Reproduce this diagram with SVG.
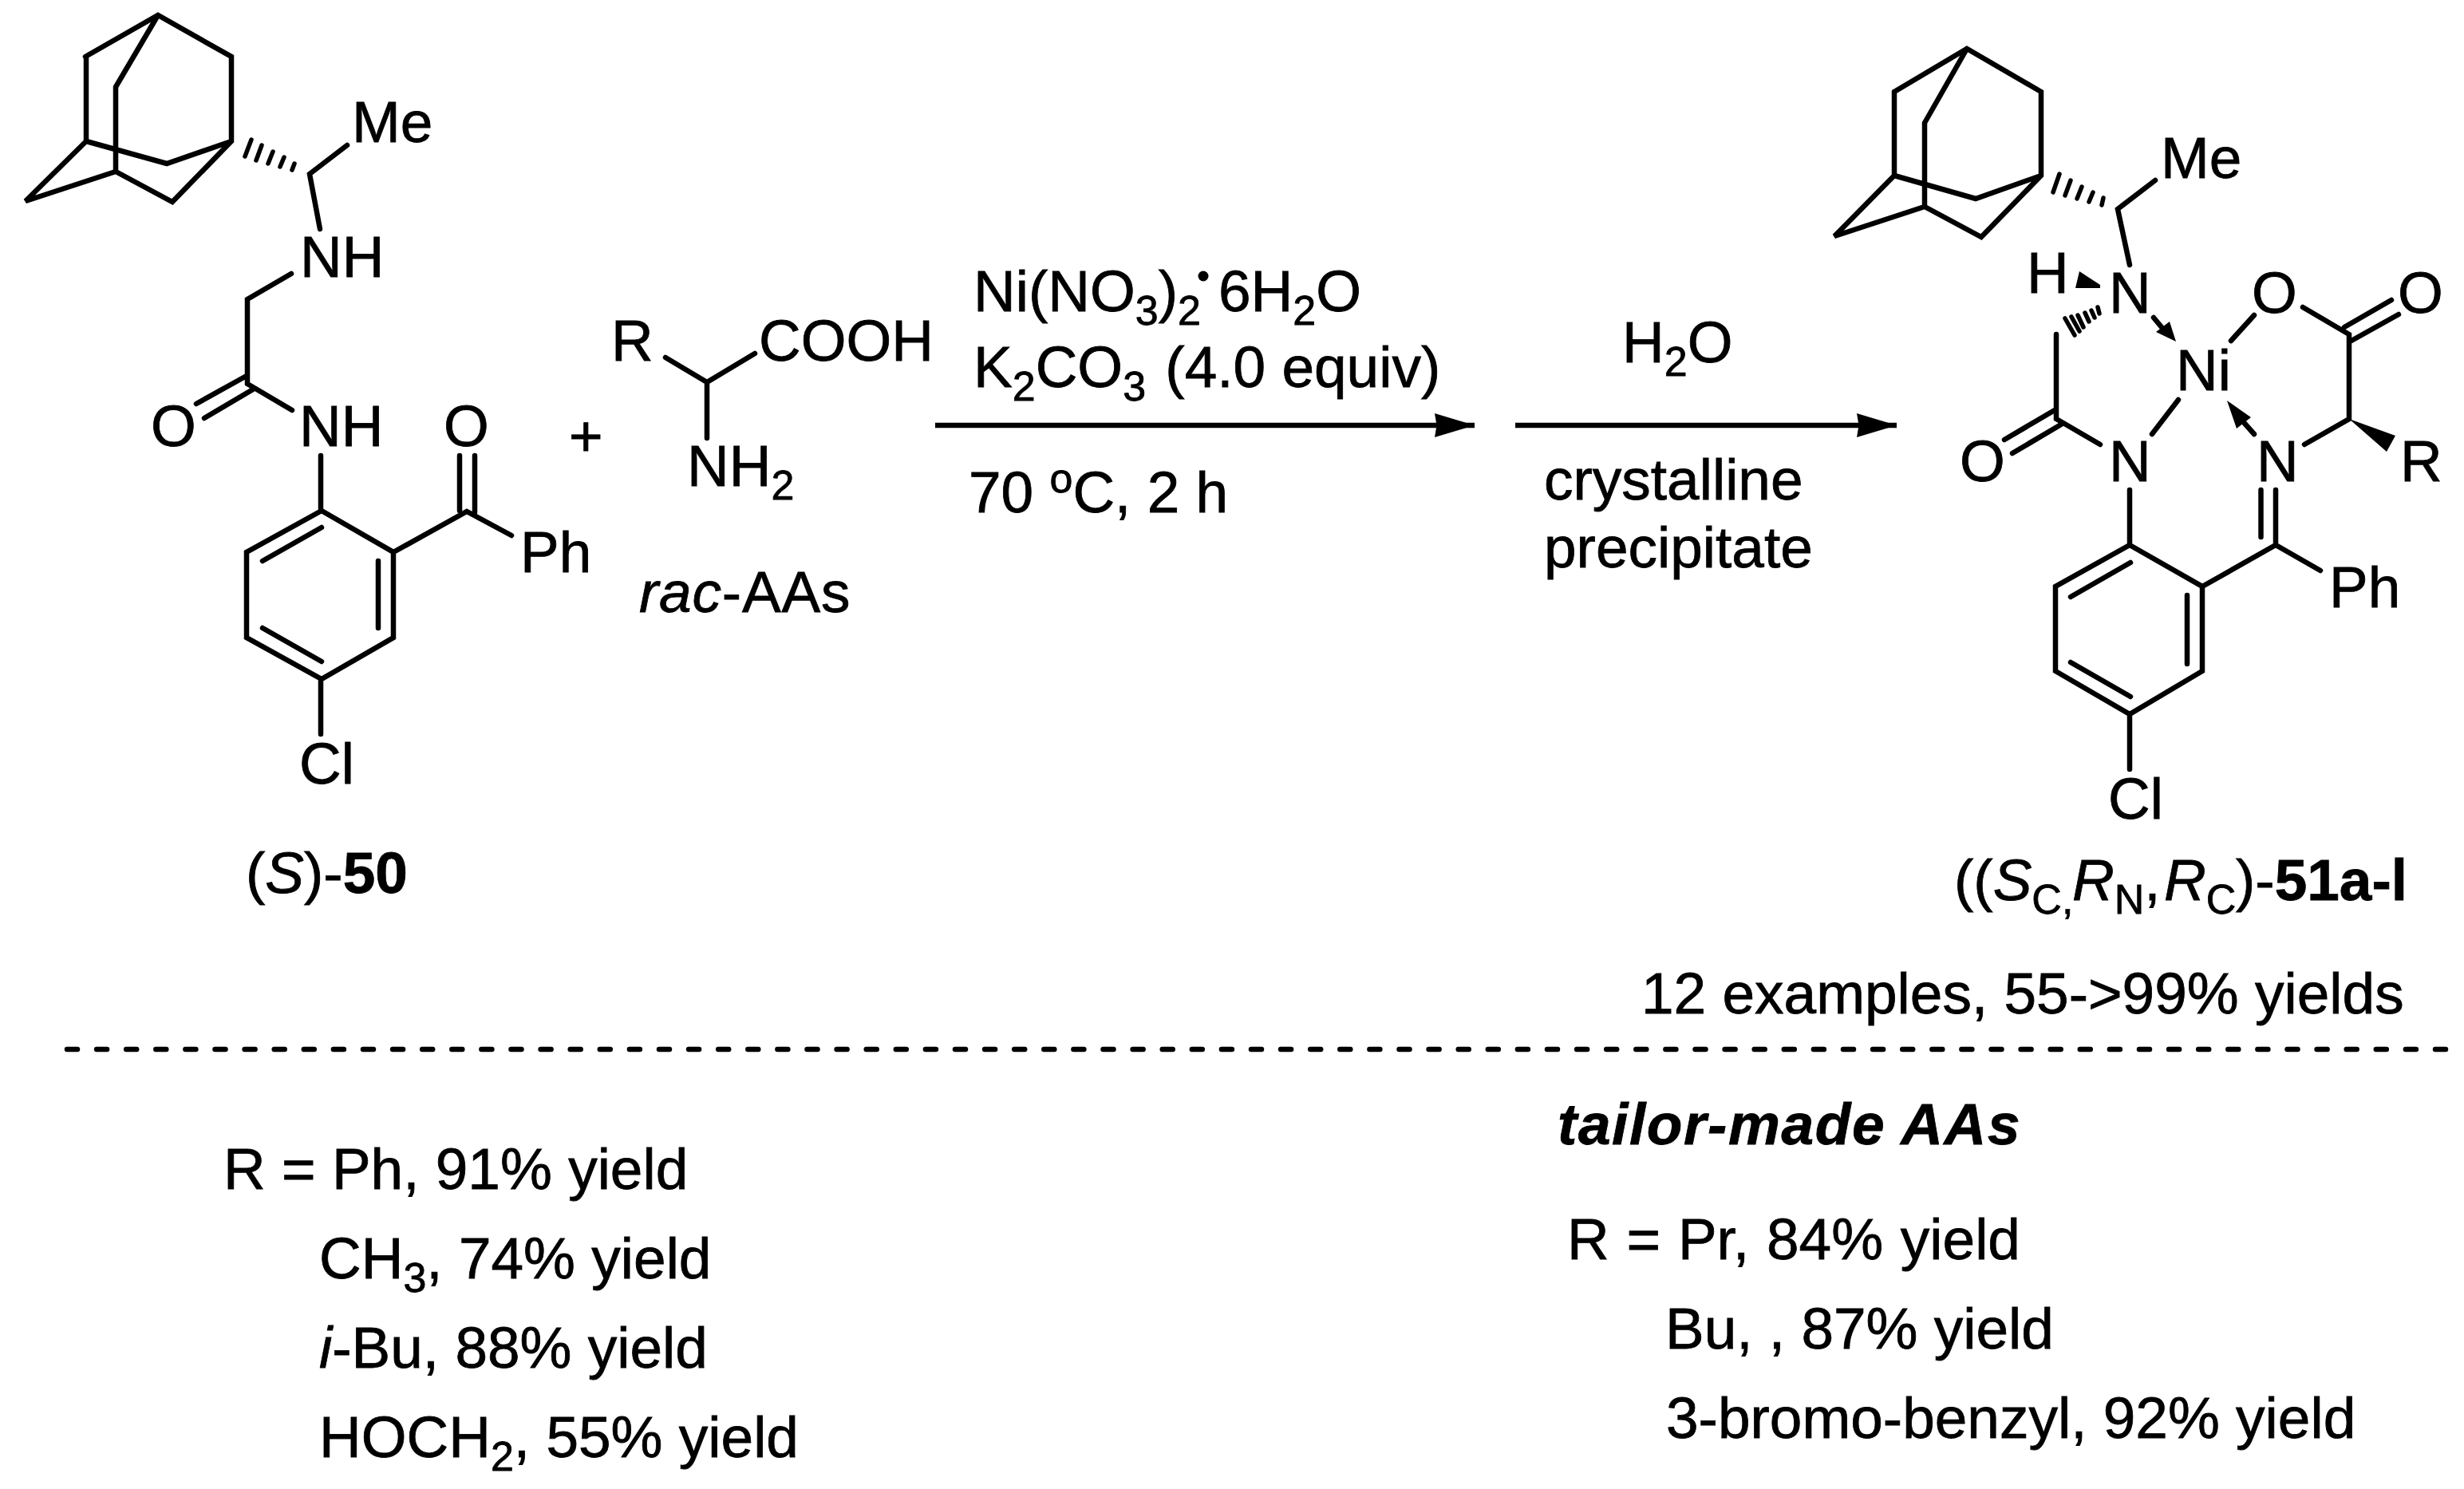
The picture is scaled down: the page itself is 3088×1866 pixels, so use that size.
<svg xmlns="http://www.w3.org/2000/svg" width="3088" height="1866" viewBox="0 0 3088 1866">
<style>
text{font-family:"Liberation Sans",Arial,sans-serif;font-size:73px;fill:#000;stroke:#000;stroke-width:.8}
.s{font-size:52px}
.i{font-style:italic}
.b{font-weight:bold}
.bond{fill:none;stroke:#000;stroke-width:6.500;stroke-linejoin:miter;stroke-linecap:round}
.hash{fill:none;stroke:#000;stroke-width:5.500;stroke-linecap:round}
.solid{fill:#000;stroke:none}
.arrow{fill:none;stroke:#000;stroke-width:6.500}
.dash{fill:none;stroke:#000;stroke-width:6.500;stroke-linecap:round;stroke-dasharray:13 24.1}
</style>
<defs>
<marker id="head" markerUnits="userSpaceOnUse" markerWidth="52" markerHeight="32" refX="50" refY="15" orient="auto" overflow="visible">
<path d="M0 0L50 15L0 30L2.500 15Z" fill="#000"/>
</marker>
</defs>
<rect width="3088" height="1866" fill="#fff"/>

<g id="connectors">
<path class="arrow" d="M1172 533H1848" marker-end="url(#head)"/>
<path class="arrow" d="M1899 533H2377" marker-end="url(#head)"/>
<path class="dash" d="M84 1315H3066"/>
</g>

<g id="reactant-50">
<path class="bond" d="M107 71L198 19L290 71V177L216 253L145 215L32 252L108 177V71M198 19L145 109V215M108 177L209 205L290 177"/>
<path class="hash" d="M315 175L307 196M328 182L321 201M342 190L336 205M356 197L351 209M369 205L366 213"/>
<path class="bond" d="M435 182L388 218L401 287"/>
<path class="bond" d="M365 343L310 375V481L366 514M309 471L246 506M317 488L256 524"/>
<path class="bond" d="M402 571V640M403 640L493 692V799L403 851L309 799V692L403 640M403 661L329 703M474 703V787M329 787L403 829M402 851V920"/>
<path class="bond" d="M493 692L585 641L641 671M576 571V640M595 571V642"/>
<text x="441" y="178">Me</text>
<text x="376" y="347">NH</text>
<text x="189" y="559">O</text>
<text x="375" y="559">NH</text>
<text x="556" y="559">O</text>
<text x="652" y="717">Ph</text>
<text x="375" y="982">Cl</text>
<text x="308" y="1119">(<tspan class="i">S</tspan>)-<tspan class="b">50</tspan></text>
</g>

<g id="plus"><text x="713" y="571">+</text></g>

<g id="rac-aas">
<path class="bond" d="M834 448L886 479L946 443M886 479V549"/>
<text x="766" y="452">R</text>
<text x="951" y="452">COOH</text>
<text x="861" y="609">NH<tspan class="s" dy="17">2</tspan></text>
<text x="801" y="767" style="letter-spacing:.8px"><tspan class="i">rac</tspan>-AAs</text>
</g>

<g id="reagents-1">
<text x="1220" y="390">Ni(NO<tspan class="s" dy="17">3</tspan><tspan dy="-17">)</tspan><tspan class="s" dy="17">2</tspan></text>
<circle cx="1508" cy="346" r="6.500"/>
<text x="1527" y="390">6H<tspan class="s" dy="17">2</tspan><tspan dy="-17">O</tspan></text>
<text x="1220" y="485">K<tspan class="s" dy="17">2</tspan><tspan dy="-17">CO</tspan><tspan class="s" dy="17">3</tspan><tspan dx="4" dy="-17"> (4.0 equiv)</tspan></text>
<text x="1214" y="642">70 <tspan class="s" dy="-25">o</tspan><tspan dy="25">C, 2 h</tspan></text>
</g>

<g id="reagents-2">
<text x="2033" y="454">H<tspan class="s" dy="17">2</tspan><tspan dy="-17">O</tspan></text>
<text x="1935" y="626">crystalline</text>
<text x="1935" y="711">precipitate</text>
</g>

<g id="product-51">
<path class="bond" d="M2374 115L2465 61L2558 115V220L2483 297L2412 259L2299 296L2374 220V115M2465 61L2412 154V259M2374 220L2476 249L2558 220"/>
<path class="hash" d="M2581 218L2573 241M2595 226L2588 245M2609 234L2603 249M2623 241L2618 253M2636 248L2634 257"/>
<path class="bond" d="M2701 226L2654 262L2669 332"/>
<path class="solid" d="M2606 340L2632 357V361H2601Z"/>
<path class="hash" d="M2629 385L2631 393M2621 389L2625 398M2613 392L2618 403M2604 395L2611 410M2596 397L2606 415M2588 399L2600 420"/>
<path class="bond" d="M2577 419V525L2632 557M2575 514L2512 551M2583 532L2522 568"/>
<path class="bond" d="M2699 398L2714 416"/>
<path class="solid" d="M2727 428L2702 416L2719 403Z"/>
<path class="bond" d="M2796 427L2825 395M2886 385L2944 419V525L2888 557M2938 410L2997 376M2945 428L3006 394"/>
<path class="solid" d="M2944 525L3002 546L2991 566Z"/>
<path class="bond" d="M2730 501L2697 544M2825 544L2809 526"/>
<path class="solid" d="M2791 502L2821 523L2803 537Z"/>
<path class="bond" d="M2669 614V683M2669 683L2760 735V841L2669 895L2576 841V735L2669 683M2670 705L2595 748M2741 746V832M2595 830L2670 873M2669 895V964"/>
<path class="bond" d="M2833.500 614V673M2852 614V683M2760 735L2852 683L2908 715"/>
<text x="2708" y="223">Me</text>
<text x="2540" y="367">H</text>
<text x="2643" y="392">N</text>
<text x="2727" y="489">Ni</text>
<text x="2822" y="392">O</text>
<text x="3005" y="392">O</text>
<text x="2456" y="603">O</text>
<text x="2643" y="603">N</text>
<text x="2828" y="603">N</text>
<text x="3008" y="603">R</text>
<text x="2919" y="761">Ph</text>
<text x="2642" y="1026">Cl</text>
<text x="2449" y="1128">((<tspan class="i">S</tspan><tspan class="s" dy="17">C,</tspan><tspan class="i" x="2597" dy="-17">R</tspan><tspan class="s" dy="17">N</tspan><tspan dy="-17">,</tspan><tspan class="i" x="2712">R</tspan><tspan class="s" dy="17">C</tspan><tspan x="2802" dy="-17">)-</tspan><tspan class="b">51a-l</tspan></text>
<text x="2057" y="1270">12 examples, 55-&gt;99% yields</text>
</g>

<g id="scope-left">
<text x="280" y="1490">R = Ph, 91% yield</text>
<text x="400" y="1602">CH<tspan class="s" dy="17">3</tspan><tspan dy="-17">, 74% yield</tspan></text>
<text x="400" y="1714"><tspan class="i">i</tspan>-Bu, 88% yield</text>
<text x="400" y="1826">HOCH<tspan class="s" dy="17">2</tspan><tspan dy="-17">, 55% yield</tspan></text>
</g>

<g id="scope-right">
<text x="1952" y="1434" class="i b" style="letter-spacing:1.600px">tailor-made AAs</text>
<text x="1964" y="1578" style="word-spacing:1.500px">R = Pr, 84% yield</text>
<text x="2087" y="1690">Bu, , 87% yield</text>
<text x="2088" y="1802">3-bromo-benzyl, 92% yield</text>
</g>
</svg>
